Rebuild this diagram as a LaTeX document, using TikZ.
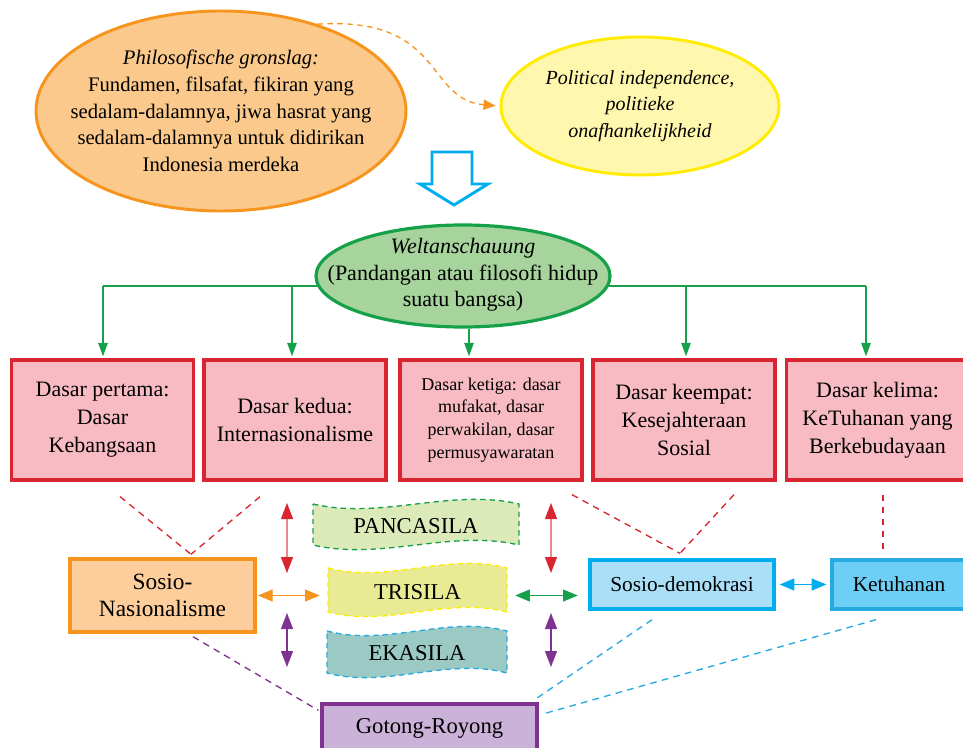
\documentclass[tikz,border=0pt]{standalone}
\usepackage{fontspec}
\setmainfont{Liberation Serif}
\usetikzlibrary{shapes.geometric,arrows.meta,calc}

\definecolor{orangeline}{HTML}{F7941D}
\definecolor{orangefill}{HTML}{FBC98B}
\definecolor{snfill}{HTML}{FDCE9B}
\definecolor{yellowline}{HTML}{FFEC00}
\definecolor{yellowfill}{HTML}{FFF7AE}
\definecolor{greenline}{HTML}{16A04A}
\definecolor{greenfill}{HTML}{A6D49C}
\definecolor{redline}{HTML}{D82530}
\definecolor{redlight}{HTML}{E58A91}
\definecolor{pinkfill}{HTML}{F8BBC4}
\definecolor{blueline}{HTML}{00AEEF}
\definecolor{sdfill}{HTML}{ABDFF8}
\definecolor{ktline}{HTML}{27AAE1}
\definecolor{ktfill}{HTML}{6ECFF6}
\definecolor{purpleline}{HTML}{7F3391}
\definecolor{grfill}{HTML}{CBB2D8}
\definecolor{pcfill}{HTML}{DCEABA}
\definecolor{trfill}{HTML}{E8EA94}
\definecolor{ekfill}{HTML}{9BCAC5}

\tikzset{
  dasar/.style={draw=redline, fill=pinkfill, line width=2.5pt, minimum width=136.5pt,
    minimum height=90pt, align=center, inner sep=2pt, font=\fontsize{16.5}{21}\selectfont},
  sosio/.style={line width=2.5pt, align=center, inner sep=2pt, font=\fontsize{16}{20}\selectfont},
  sila/.style={inner sep=0pt, font=\fontsize{17}{20}\selectfont},
  gar/.style={draw=greenline, line width=1.1pt, -{Triangle[length=10pt,width=7pt]}},
  rdash/.style={draw=redline, line width=1pt, dash pattern=on 5pt off 4pt},
  pdash/.style={draw=purpleline, line width=1pt, dash pattern=on 5pt off 4pt},
  cdash/.style={draw=ktline, line width=1pt, dash pattern=on 5pt off 4pt},
  dblred/.style={draw=redlight, line width=1pt,
    {Triangle[length=12pt,width=9pt,color=redline]}-{Triangle[length=12pt,width=9pt,color=redline]}},
  dblpurple/.style={draw=purpleline, line width=1pt,
    {Triangle[length=12pt,width=9pt]}-{Triangle[length=12pt,width=9pt]}},
  dblorange/.style={draw=orangeline, line width=1pt,
    {Triangle[length=11pt,width=9pt]}-{Triangle[length=11pt,width=9pt]}},
  dblgreen/.style={draw=greenline, line width=1pt,
    {Triangle[length=11pt,width=9pt]}-{Triangle[length=11pt,width=9pt]}},
  dblblue/.style={draw=blueline, line width=1pt,
    {Triangle[length=11pt,width=9pt]}-{Triangle[length=11pt,width=9pt]}},
}

% wavy banner: style, x0, y0, x1, y1
\newcommand{\wavebox}[5]{%
  \draw[#1] (#2,#3) .. controls ({#2+(#4-#2)/3},{#3+16}) and ({#2+2*(#4-#2)/3},{#3-16}) .. (#4,#3)
    -- (#4,#5) .. controls ({#2+2*(#4-#2)/3},{#5-16}) and ({#2+(#4-#2)/3},{#5+16}) .. (#2,#5) -- cycle;}

\begin{document}
\begin{tikzpicture}[x=0.75pt, y=-0.75pt]
\useasboundingbox (0,0) rectangle (963,748);

% top ellipses
\node[ellipse, draw=orangeline, fill=orangefill, line width=2.2pt, minimum width=277.5pt,
  minimum height=150pt, inner sep=0pt] (ph) at (221,111) {};
\node[align=center, font=\fontsize{15.5}{20}\selectfont] at (ph) {\textit{Philosofische gronslag:}\\
  Fundamen, filsafat, fikiran yang\\ sedalam-dalamnya, jiwa hasrat yang\\
  sedalam-dalamnya untuk didirikan\\ Indonesia merdeka};
\node[ellipse, draw=yellowline, fill=yellowfill, line width=2.2pt, minimum width=208.5pt,
  minimum height=103.5pt, inner sep=0pt] (pi) at (640,106) {};
\node[align=center, font=\itshape\fontsize{15}{20}\selectfont] at (pi) {Political independence,\\
  politieke\\ onafhankelijkheid};
\draw[orangeline, line width=1pt, dash pattern=on 4pt off 3.5pt, -{Triangle[length=9pt,width=7.5pt]},
  shorten >=3pt] (ph.42) .. controls (445,16) and (425,100) .. (pi.west);

% hollow arrow
\draw[blueline, fill=white, line width=2.2pt, line join=miter]
  (432,152) -- (472,152) -- (472,184) -- (488,184) -- (454,205) -- (420,184) -- (432,184) -- cycle;

% weltanschauung
\draw[greenline, line width=1.1pt] (103,286) -- (866,286);
\node[ellipse, draw=greenline, fill=greenfill, line width=2.4pt, minimum width=220.5pt,
  minimum height=76.5pt, inner sep=0pt] (we) at (463,276) {};
\node[align=center, font=\fontsize{16.5}{20}\selectfont] at (463,275) {\textit{Weltanschauung}\\
  (Pandangan atau filosofi hidup\\ suatu bangsa)};

% dasar
\node[dasar] (b1) at (102.5,420) {Dasar pertama:\\ Dasar\\ Kebangsaan};
\node[dasar] (b2) at (295,420) {Dasar kedua:\\ Internasionalisme};
\node[dasar, font=\fontsize{13.5}{17}\selectfont] (b3) at (491,420) {Dasar ketiga: dasar\\
  mufakat, dasar\\ perwakilan, dasar\\ permusyawaratan};
\node[dasar] (b4) at (684,420) {Dasar keempat:\\ Kesejahteraan\\ Sosial};
\node[dasar] (b5) at (877.5,420) {Dasar kelima:\\ KeTuhanan yang\\ Berkebudayaan};

\foreach \x/\b in {103/b1, 292/b2, 686/b4, 866/b5}
  \draw[gar, shorten >=1.5pt] (\x,286) -- (\b.north -| \x,0);
\draw[gar, shorten >=1.5pt] (we.south -| 469,0) -- (b3.north -| 469,0);

% sosio
\node[sosio, draw=orangeline, fill=snfill, minimum width=138.75pt, minimum height=54.75pt,
  font=\fontsize{17.5}{20}\selectfont] (sn) at (162.5,595.5) {Sosio-\\ Nasionalisme};
\node[sosio, draw=blueline, fill=sdfill, minimum width=138pt, minimum height=36.75pt]
  (sd) at (682,584.5) {Sosio-demokrasi};
\node[sosio, draw=ktline, fill=ktfill, minimum width=100.5pt, minimum height=36.75pt]
  (kt) at (899,584.5) {Ketuhanan};
\node[sosio, draw=purpleline, fill=grfill, minimum width=161.25pt, minimum height=36pt,
  font=\fontsize{17}{20}\selectfont] (gr) at (429.5,728) {Gotong-Royong};

% sila
\wavebox{greenline, fill=pcfill, line width=1pt, dash pattern=on 4pt off 3pt}{313}{504}{519}{545}
\wavebox{yellowline, fill=trfill, line width=1pt, dash pattern=on 4pt off 3pt}{328}{568}{507}{612}
\wavebox{ktline, fill=ekfill, line width=1pt, dash pattern=on 4pt off 3pt}{327}{631}{507}{673}
\node[sila] (pc) at (416,526) {PANCASILA};
\node[sila, minimum width=134.25pt] (tr) at (417.5,592) {TRISILA};
\node[sila] (ek) at (417,653) {EKASILA};

% dashed links
\draw[rdash] ($(b1.south)+(17.5,15)$) -- ($(sn.north)+(28.5,-3)$);
\draw[rdash] ($(b2.south)+(-35,15)$) -- ($(sn.north)+(28.5,-3)$);
\draw[rdash] ($(b3.south)+(81,13)$) -- ($(sd.north)+(-2,-5)$);
\draw[rdash] ($(b4.south)+(50,13)$) -- ($(sd.north)+(-2,-5)$);
\draw[rdash] ($(b5.south)+(5.5,13)$) -- ($(kt.north)+(-16,-5)$);
\draw[pdash] ($(sn.south)+(30.5,3)$) -- ($(gr.north west)+(-2,8)$);
\draw[cdash] ($(sd.south)+(-30,9)$) -- ($(gr.north east)+(-5,-2)$);
\draw[cdash] ($(kt.south)+(-23,9)$) -- ($(gr.north east)+(3,12)$);

% double arrows
\foreach \x in {287,551} {
  \draw[dblred] (\x,503) -- (\x,573);
  \draw[dblpurple] (\x,613) -- (\x,667);
}
\draw[dblorange, shorten <=1pt, shorten >=6pt] (sn.east) -- (tr.west |- sn.east);
\draw[dblgreen, shorten <=6pt, shorten >=8pt] (tr.east |- sn.east) -- (sd.west |- sn.east);
\draw[dblblue, shorten <=3pt, shorten >=3pt] (sd.east) -- (kt.west);
\end{tikzpicture}
\end{document}
